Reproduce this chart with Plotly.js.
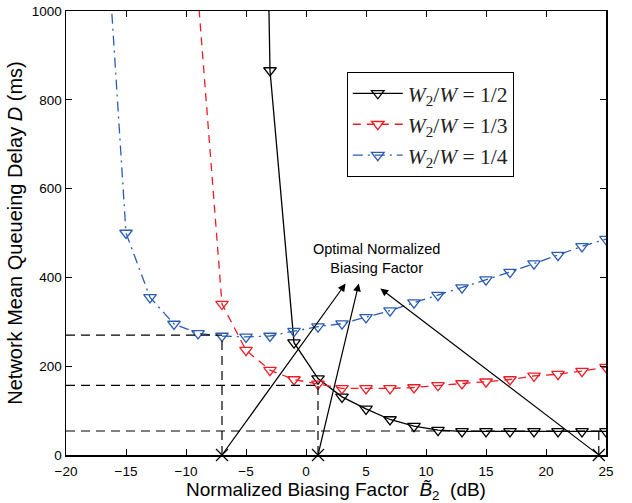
<!DOCTYPE html>
<html><head><meta charset="utf-8">
<script src="https://cdn.plot.ly/plotly-3.0.1.min.js"></script>
<style>html,body{margin:0;padding:0;background:#fff}</style>
</head><body><div id="chart" style="width:632px;height:503px"></div>
<script>
// Data
const xBlack = [-5, -3, -1, 1, 3, 5, 7, 9, 11, 13, 15, 17, 19, 21, 23, 25];
const yBlack = [4000, 866, 253, 172, 131, 104, 80, 65, 56, 53, 53, 53, 53, 53, 53, 53];
const xRed = [-9, -7, -5, -3, -1, 1, 3, 5, 7, 9, 11, 13, 15, 17, 19, 21, 23, 25];
const yRed = [1035, 340, 236, 191, 170, 160, 150, 150, 150, 152, 157, 161, 165, 170, 178, 182, 189, 198];
const xBlue = [-17, -15, -13, -11, -9, -7, -5, -3, -1, 1, 3, 5, 7, 9, 11, 13, 15, 17, 19, 21, 23, 25];
const yBlue = [1340, 500, 355, 295, 274, 268, 266, 268, 279, 289, 296, 310, 325, 343, 360, 377, 395, 412, 431, 450, 470, 486];
const seriesNames = ['<i>W</i><sub>2</sub>/<i>W</i> = 1/2', '<i>W</i><sub>2</sub>/<i>W</i> = 1/3', '<i>W</i><sub>2</sub>/<i>W</i> = 1/4'];
// optimal points (B, D)
const optX = [-7, 1, 24.4];
const optY = [270, 157, 54];
// arrow heads
const headX = [3.3, 4.4, 6.2];
const headY = [386, 386, 375];
const xTicks = [-20, -15, -10, -5, 0, 5, 10, 15, 20, 25];
const yTicks = [0, 200, 400, 600, 800, 1000];

const mk = (c) => ({symbol: 'triangle-down-open', size: 11, color: c, line: {width: 1.3, color: c}});
const traces = [
  {x: xBlack, y: yBlack, name: seriesNames[0], mode: 'lines+markers', line: {color: '#000', width: 1.3}, marker: mk('#000')},
  {x: xRed, y: yRed, name: seriesNames[1], mode: 'lines+markers', line: {color: '#ee1c25', width: 1.3, dash: '8px,6px'}, marker: mk('#ee1c25')},
  {x: xBlue, y: yBlue, name: seriesNames[2], mode: 'lines+markers', line: {color: '#2a5cb3', width: 1.3, dash: '10px,5px,2px,5px'}, marker: mk('#2a5cb3')},
  {x: optX, y: optX.map(() => 0), mode: 'markers', showlegend: false, cliponaxis: false,
   marker: {symbol: 'x-thin-open', size: 12, color: '#000', line: {width: 1.2, color: '#000'}}}
];

const shapes = [];
optX.forEach((bx, i) => {
  const xEnd = i === optX.length - 1 ? 25 : bx;
  shapes.push({type: 'line', xref: 'x', yref: 'y', x0: -20, x1: xEnd, y0: optY[i], y1: optY[i], line: {color: '#000', width: 1.2, dash: '9px,6px'}});
  shapes.push({type: 'line', xref: 'x', yref: 'y', x0: bx, x1: bx, y0: 0, y1: optY[i], line: {color: '#000', width: 1.2, dash: '9px,6px'}});
});

const annotations = optX.map((bx, i) => ({
  x: headX[i], y: headY[i], xref: 'x', yref: 'y', ax: bx, ay: 0, axref: 'x', ayref: 'y',
  text: '', showarrow: true, arrowhead: 2, arrowsize: 1.3, arrowwidth: 1.2, arrowcolor: '#000', standoff: 0, startstandoff: 0
}));
annotations.push({x: 5.9, y: 443, xref: 'x', yref: 'y', text: 'Optimal Normalized<br>Biasing Factor', showarrow: false,
  font: {family: 'Liberation Sans, Arial', size: 14.5, color: '#000'}, align: 'center'});

const layout = {
  width: 632, height: 503,
  margin: {l: 66, r: 26, t: 11, b: 48},
  paper_bgcolor: '#fff', plot_bgcolor: '#fff',
  font: {family: 'Liberation Sans, Arial, sans-serif', size: 13.5, color: '#000'},
  xaxis: {range: [-20, 25], tickvals: xTicks, ticks: 'inside', ticklen: 6, tickwidth: 1, tickcolor: '#000',
    showline: true, linecolor: '#000', linewidth: 1.5, mirror: 'ticks', showgrid: false, zeroline: false,
    tickfont: {size: 13.5}, ticklabelstandoff: 3,
    title: {text: 'Normalized Biasing Factor  <i>B̃</i><sub>2</sub>  (dB)', font: {size: 19}, standoff: 3}},
  yaxis: {range: [0, 1000], tickvals: yTicks, ticks: 'inside', ticklen: 6, tickwidth: 1, tickcolor: '#000',
    showline: true, linecolor: '#000', linewidth: 1.5, mirror: 'ticks', showgrid: false, zeroline: false,
    tickfont: {size: 13.5},
    title: {text: 'Network Mean Queueing Delay <i>D</i> (ms)', font: {size: 20}, standoff: 4}},
  legend: {x: 0.52, y: 0.863, xanchor: 'left', yanchor: 'top', bgcolor: '#fff', bordercolor: '#000', borderwidth: 1,
    font: {family: 'Liberation Serif, DejaVu Serif, serif', size: 21.5, color: '#222'}, itemwidth: 50, tracegroupgap: 0},
  shapes: shapes,
  annotations: annotations
};
Plotly.newPlot('chart', traces, layout, {displayModeBar: false, staticPlot: true});
</script>
</body></html>
